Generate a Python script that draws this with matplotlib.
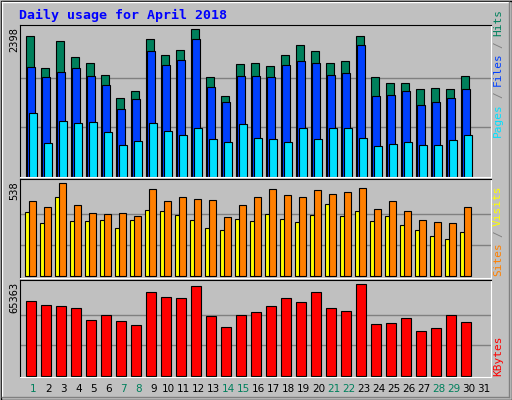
import numpy as np, matplotlib
matplotlib.use("Agg")
import matplotlib.pyplot as plt
from matplotlib.patches import Rectangle

days = list(range(1, 32))
weekend = [1, 7, 8, 14, 15, 21, 22, 28, 29]
hits = [2278,1756,2197,1936,1838,1658,1283,1397,2229,1968,2050,2398,1610,1316,1822,
        1838,1789,1968,2132,2034,1838,1871,2278,1610,1512,1528,1430,1446,1430,1626]
files = [1773,1610,1691,1756,1642,1495,1104,1267,2034,1805,1887,2229,1463,1218,1626,
         1642,1610,1805,1871,1838,1658,1675,2132,1316,1332,1397,1169,1218,1283,1430]
pages = [1039,549,908,875,892,729,517,582,875,745,680,794,614,566,859,
         631,614,566,794,614,794,794,631,500,533,566,517,517,598,680]
sites = [433,403,538,415,368,363,368,351,503,433,456,450,439,345,415,
         456,503,468,456,497,474,485,509,392,433,380,327,316,310,403]
visits = [374,310,456,322,322,327,281,327,386,380,357,327,281,269,333,
          322,363,333,316,357,421,351,380,322,351,298,269,234,216,257]
kbytes = [53208,50345,49629,48197,39608,43187,38892,36029,59650,56071,55355,63944,42471,34597,43187,
          45334,49629,55355,52492,59650,48197,46050,65363,36744,37460,41039,31734,33881,43187,38176]
max_hits, max_sites, max_kb = 2398, 538, 65363

W, H = 512, 400
fig = plt.figure(figsize=(W/100, H/100), dpi=100)
fig.patch.set_facecolor('#C0C0C0')
BG = '#C0C0C0'
MONO = 'DejaVu Sans Mono'

def px_axes(x0, y0, x1, y1):
    return fig.add_axes([x0/W, 1-y1/H, (x1-x0)/W, (y1-y0)/H])

# outer border + bevel
bg = fig.add_axes([0, 0, 1, 1]); bg.set_xlim(0, W); bg.set_ylim(H, 0); bg.axis('off')
bg.add_patch(Rectangle((0.5, 0.5), W-1, H-1, fill=False, ec='black', lw=1))
bg.plot([2, W-3], [2, 2], color='white', lw=1); bg.plot([2, 2], [2, H-3], color='white', lw=1)
bg.plot([2, W-3], [H-3, H-3], color='#808080', lw=1); bg.plot([W-3, W-3], [2, H-3], color='#808080', lw=1)
bg.text(19, 15, 'Daily usage for April 2018', color='#0000FF', fontsize=9.5, fontweight='bold',
        family=MONO, va='center', ha='left')

x = np.array(days[:30], dtype=float)
XL = (0.6, 0.6 + 471/15)

def setup(ax, ylim, grid):
    ax.set_facecolor(BG); ax.set_xlim(*XL); ax.set_ylim(*ylim)
    ax.set_xticks([]); ax.set_yticks([])
    for g in grid:
        ax.axhline(g, color='#808080', lw=1, zorder=0)
    ax.spines['top'].set_color('black'); ax.spines['left'].set_color('black')
    ax.spines['bottom'].set_color('white'); ax.spines['right'].set_color('white')

kw = dict(align='edge', ec='black', lw=0.8)
a1 = px_axes(20, 25, 491, 177)
setup(a1, (-8, 2463), [max_hits/3, 2*max_hits/3])
a1.bar(x, hits, 0.5, color='#00805C', **kw)
a1.bar(x+0.07, files, 0.55, color='#0040FF', **kw)
a1.bar(x+0.2, pages, 0.5, color='#00E0FF', **kw)

a2 = px_axes(20, 179, 491, 278)
setup(a2, (-10, 563), [max_sites/3, 2*max_sites/3])
a2.bar(x-0.07, visits, 0.32, color='#FFFF00', **kw)
a2.bar(x+0.22, sites, 0.47, color='#FF8000', **kw)

a3 = px_axes(20, 280, 491, 377)
setup(a3, (-1000, 68440), [max_kb/3, 2*max_kb/3])
a3.bar(x, kbytes, 0.68, color='#FF0000', **kw)

for lab, ytop in [('2398', 27), ('538', 181), ('65363', 282)]:
    bg.text(14, ytop, lab, rotation=90, fontsize=7.5, family=MONO, ha='center', va='top', color='black')

for d in days:
    bg.text(20 + (d-1)*15 + 13.5, 389, str(d), fontsize=7.5, ha='center', va='center',
            color='#00805C' if d in weekend else 'black')

fig.canvas.draw()
rend = fig.canvas.get_renderer()

def vlabel(parts, ybottom):
    y = ybottom
    for s, c in parts:
        t = bg.text(498, y, s, rotation=90, fontsize=8, family=MONO, ha='center', va='bottom',
                    color=c)
        h = t.get_window_extent(rend).height
        y -= h + 5

vlabel([('Pages', '#00E0FF'), ('/', '#808080'), ('Files', '#0040FF'), ('/', '#808080'), ('Hits', '#00805C')], 137)
vlabel([('Sites', '#FF8000'), ('/', '#808080'), ('Visits', '#FFFF00')], 276)
vlabel([('KBytes', '#FF0000')], 376)

fig.savefig('out.png', dpi=100, facecolor=fig.get_facecolor())
